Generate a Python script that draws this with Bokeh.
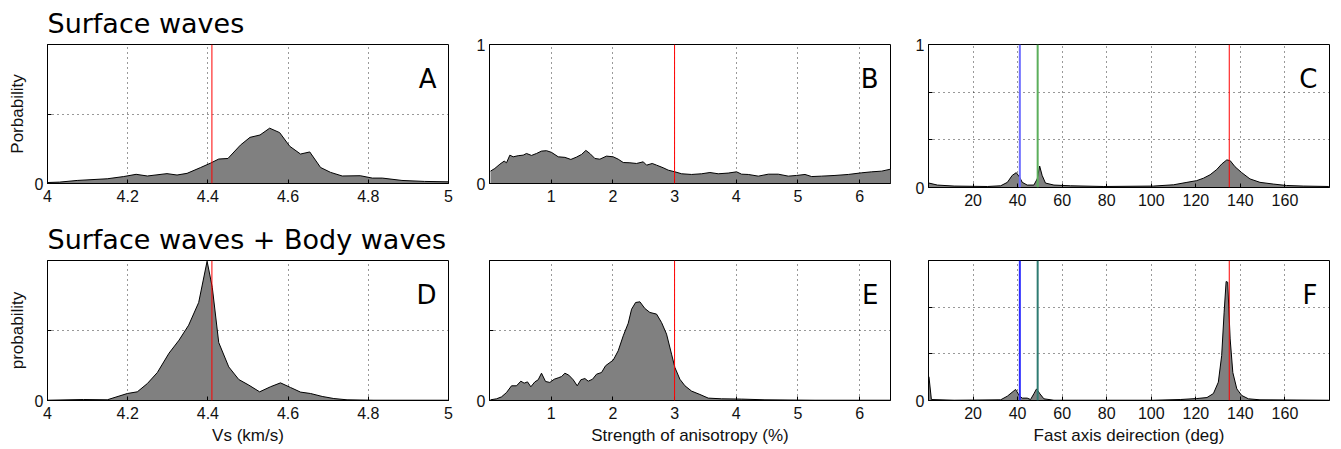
from bokeh.plotting import figure
from bokeh.layouts import column, row
from bokeh.models import Range1d, FixedTicker, Span, Label, CustomJSTickFormatter
from bokeh.embed import file_html
from bokeh.resources import INLINE

# ---------------- data (normalised probability) -------------
A_x = [4.0, 4.03, 4.074, 4.149, 4.19, 4.221, 4.249, 4.298, 4.323, 4.348, 4.382, 4.406, 4.427,
       4.45, 4.481, 4.505, 4.53, 4.554, 4.579, 4.604, 4.631, 4.654, 4.681, 4.706, 4.735, 4.78,
       4.81, 4.835, 4.884, 4.94, 5.0]
A_y = [0.007, 0.01, 0.022, 0.034, 0.05, 0.066, 0.054, 0.071, 0.061, 0.073, 0.115, 0.146, 0.176,
       0.18, 0.276, 0.332, 0.349, 0.398, 0.366, 0.268, 0.212, 0.227, 0.115, 0.08, 0.054, 0.056,
       0.039, 0.039, 0.022, 0.015, 0.012]

B_x = [0.016, 0.086, 0.168, 0.238, 0.276, 0.33, 0.384, 0.465, 0.546, 0.6, 0.681, 0.762, 0.843,
       0.924, 1.005, 1.114, 1.222, 1.319, 1.411, 1.492, 1.562, 1.627, 1.708, 1.789, 1.897, 2.005,
       2.086, 2.168, 2.276, 2.384, 2.492, 2.546, 2.638, 2.708, 2.816, 2.897, 3.005, 3.114, 3.276,
       3.438, 3.573, 3.708, 3.87, 4.005, 4.086, 4.195, 4.357, 4.519, 4.681, 4.843, 4.978, 5.114,
       5.222, 5.384, 5.6, 5.816, 6.032, 6.195, 6.357, 6.5]
B_y = [0.089, 0.108, 0.139, 0.161, 0.149, 0.204, 0.192, 0.2, 0.204, 0.216, 0.202, 0.216, 0.233,
       0.236, 0.224, 0.192, 0.188, 0.173, 0.19, 0.209, 0.238, 0.216, 0.18, 0.175, 0.197, 0.192,
       0.175, 0.151, 0.149, 0.144, 0.156, 0.132, 0.144, 0.132, 0.113, 0.096, 0.084, 0.07, 0.065,
       0.07, 0.079, 0.07, 0.075, 0.084, 0.067, 0.065, 0.053, 0.067, 0.067, 0.053, 0.058, 0.065,
       0.05, 0.053, 0.058, 0.065, 0.077, 0.084, 0.089, 0.103]

C_x = [0.2, 4, 11.5, 26.4, 32.4, 35.4, 37.6, 39.4, 40.9, 42.1, 44.3, 47.3, 48.8, 49.9, 51, 52.5,
       56.3, 63.7, 78.7, 101, 110, 116, 120.4, 123.4, 126.4, 129.4, 131.6, 133.9, 135.4, 137.6,
       140.6, 144.3, 148.8, 154.8, 160.7, 168.2, 179.7]
C_y = [0.031, 0.017, 0.01, 0.007, 0.012, 0.036, 0.085, 0.104, 0.072, 0.036, 0.017, 0.017, 0.06,
       0.15, 0.085, 0.031, 0.017, 0.012, 0.007, 0.01, 0.019, 0.036, 0.048, 0.065, 0.089, 0.126,
       0.164, 0.193, 0.188, 0.145, 0.104, 0.06, 0.036, 0.024, 0.014, 0.01, 0.007]

D_x = [4.0, 4.09, 4.149, 4.199, 4.224, 4.249, 4.274, 4.303, 4.328, 4.352, 4.377, 4.398, 4.411,
       4.427, 4.452, 4.477, 4.502, 4.529, 4.556, 4.581, 4.606, 4.631, 4.656, 4.685, 4.714, 4.747,
       4.814, 5.0]
D_y = [0.002, 0.007, 0.005, 0.05, 0.062, 0.121, 0.2, 0.338, 0.431, 0.538, 0.7, 0.995, 0.807,
       0.414, 0.24, 0.15, 0.11, 0.062, 0.098, 0.126, 0.093, 0.06, 0.05, 0.029, 0.014, 0.005,
       0.002, 0.002]

E_x = [0.016, 0.114, 0.195, 0.276, 0.357, 0.438, 0.508, 0.562, 0.616, 0.67, 0.735, 0.789, 0.843,
       0.908, 0.978, 1.049, 1.114, 1.168, 1.222, 1.286, 1.357, 1.422, 1.481, 1.546, 1.6, 1.67,
       1.735, 1.816, 1.881, 1.951, 2.005, 2.086, 2.168, 2.249, 2.303, 2.368, 2.438, 2.519, 2.6,
       2.708, 2.789, 2.87, 2.951, 3.005, 3.086, 3.168, 3.276, 3.411, 3.546, 3.762, 4.086, 4.465,
       5.276, 6.5]
E_y = [0.005, 0.012, 0.026, 0.057, 0.105, 0.105, 0.138, 0.124, 0.133, 0.098, 0.133, 0.148, 0.195,
       0.136, 0.129, 0.152, 0.162, 0.171, 0.195, 0.181, 0.148, 0.105, 0.148, 0.157, 0.138, 0.152,
       0.188, 0.2, 0.248, 0.271, 0.288, 0.355, 0.462, 0.552, 0.652, 0.7, 0.705, 0.657, 0.629,
       0.617, 0.557, 0.474, 0.331, 0.236, 0.152, 0.105, 0.067, 0.043, 0.017, 0.012, 0.01, 0.005,
       0.002, 0.002]

F_x = [0.2, 1.3, 11.5, 32.4, 35.4, 39.1, 40.9, 42.1, 44.3, 45.8, 47.3, 48.5, 50, 51.8, 56.3, 101,
       113, 120.4, 125, 127.9, 130.1, 131.6, 132.7, 133.6, 134.3, 135.4, 136.6, 138.4, 140.6,
       143.6, 148.8, 179.7]
F_y = [0.17, 0.007, 0.002, 0.005, 0.031, 0.079, 0.031, 0.017, 0.017, 0.007, 0.048, 0.083, 0.048,
       0.012, 0.002, 0.002, 0.007, 0.014, 0.021, 0.05, 0.131, 0.321, 0.631, 0.85, 0.845, 0.44,
       0.2, 0.083, 0.036, 0.012, 0.005, 0.002]

# reference values (vertical lines)
vs_ref = [4.41]
aniso_ref = [3.0]
dir_ref_C = [(41, "#6e6eff"), (49, "#5caf5c"), (135, "#ff0000")]
dir_ref_F = [(41, "#2b2bff"), (49, "#2f7c72"), (135, "#ff0000")]

# ticks
vs_ticks = [4.0, 4.2, 4.4, 4.6, 4.8, 5.0]
an_ticks = [1, 2, 3, 4, 5, 6]
dir_ticks = [20, 40, 60, 80, 100, 120, 140, 160]

titles = ["Surface waves", "Surface waves + Body waves"]
letters = ["A", "B", "C", "D", "E", "F"]

TICK_FONT = "Liberation Sans"
TITLE_FONT = "DejaVu Sans"

xfmt_code = "return String(Math.round(tick * 10) / 10);"
yfmt_zero = "return Math.abs(tick) < 1e-9 ? '0' : '';"
yfmt_zero_one = "return Math.abs(tick) < 1e-9 ? '0' : (Math.abs(tick - 1) < 1e-9 ? '1' : '');"


def panel(x, y, xr, xticks, yticks, ygrid, yfmt, letter, lines, frame_h, borders,
          title=None, xlabel=None, ylabel=None):
    bl, br, bt, bb = borders
    p = figure(frame_width=401, frame_height=frame_h, min_border_left=bl, min_border_right=br,
               min_border_top=bt, min_border_bottom=bb, x_range=Range1d(*xr),
               y_range=Range1d(0, 1), output_backend="svg", toolbar_location=None)
    p.background_fill_color = "white"
    p.border_fill_color = "white"
    p.outline_line_color = "black"
    p.outline_line_width = 1
    p.outline_line_alpha = 1

    p.varea(x=x, y1=0, y2=y, fill_color="#808080")
    p.line(x=x, y=y, line_color="black", line_width=1)

    for loc, col, w in lines:
        p.add_layout(Span(location=loc, dimension="height", line_color=col, line_width=w))

    p.xaxis.ticker = FixedTicker(ticks=xticks)
    p.xaxis.formatter = CustomJSTickFormatter(code=xfmt_code)
    p.yaxis.ticker = FixedTicker(ticks=yticks)
    p.yaxis.formatter = CustomJSTickFormatter(code=yfmt)
    p.xgrid.ticker = FixedTicker(ticks=xticks)
    if ygrid:
        p.ygrid.ticker = FixedTicker(ticks=ygrid)
    else:
        p.ygrid.visible = False
    for g in (p.xgrid, p.ygrid):
        g.grid_line_color = "black"
        g.grid_line_alpha = 0.8
        g.grid_line_dash = "1 4"
        g.grid_line_width = 1

    for ax in (p.xaxis, p.yaxis):
        ax.axis_line_color = "black"
        ax.major_tick_in = 4
        ax.major_tick_out = 0
        ax.minor_tick_line_color = None
        ax.major_label_text_font = TICK_FONT
        ax.major_label_text_font_size = "16px"
        ax.major_label_text_color = "#111111"
        ax.axis_label_text_font = TICK_FONT
        ax.axis_label_text_font_size = "17px"
        ax.axis_label_text_font_style = "normal"
        ax.axis_label_text_color = "#111111"
    p.xaxis.major_label_standoff = 6
    p.yaxis.major_label_standoff = 4
    if xlabel:
        p.xaxis.axis_label = xlabel
        p.xaxis.axis_label_standoff = 4
    if ylabel:
        p.yaxis.axis_label = ylabel
        p.yaxis.axis_label_standoff = 5

    if title:
        p.title.text = title
        p.title.text_font = TITLE_FONT
        p.title.text_font_size = "27px"
        p.title.text_font_style = "normal"
        p.title.text_color = "black"
        p.title.standoff = 11
        p.title.offset = 0

    p.add_layout(Label(x=xr[1], y=1, x_offset=-12, y_offset=-34, text=letter,
                       text_align="right", text_baseline="alphabetic",
                       text_font=TITLE_FONT, text_font_size="26px", text_color="black"))
    return p


pA = panel(A_x, A_y, (4, 5), vs_ticks, [0, 0.5, 1], [0.5], yfmt_zero, letters[0],
           [(v, "#ff0000", 1) for v in vs_ref], 139, (47, 20, 43, 28),
           title=titles[0], ylabel="Porbability")
pB = panel(B_x, B_y, (0, 6.5), an_ticks, [0, 1], [], yfmt_zero_one, letters[1],
           [(v, "#ff0000", 1) for v in aniso_ref], 139, (21, 19, 43, 28))
pC = panel(C_x, C_y, (0, 180), dir_ticks, [0, 1 / 3, 2 / 3, 1], [1 / 3, 2 / 3], yfmt_zero_one,
           letters[2], [(v, c, 1 if c == "#ff0000" else 2) for v, c in dir_ref_C], 143,
           (19, 11, 43, 24))

pD = panel(D_x, D_y, (4, 5), vs_ticks, [0, 0.5, 1], [0.5], yfmt_zero, letters[3],
           [(v, "#ff0000", 1) for v in vs_ref], 140, (47, 20, 49, 49),
           title=titles[1], xlabel="Vs (km/s)", ylabel="probability")
pE = panel(E_x, E_y, (0, 6.5), an_ticks, [0, 0.5, 1], [0.5], yfmt_zero, letters[4],
           [(v, "#ff0000", 1) for v in aniso_ref], 140, (21, 19, 49, 49),
           xlabel="Strength of anisotropy (%)")
pF = panel(F_x, F_y, (0, 180), dir_ticks, [0, 1 / 3, 2 / 3, 1], [1 / 3, 2 / 3], yfmt_zero,
           letters[5], [(v, c, 1 if c == "#ff0000" else 2) for v, c in dir_ref_F], 140,
           (19, 11, 49, 49), xlabel="Fast axis deirection (deg)")

layout = column(row(pA, pB, pC), row(pD, pE, pF))

open("out.html", "w").write(file_html(layout, INLINE))
